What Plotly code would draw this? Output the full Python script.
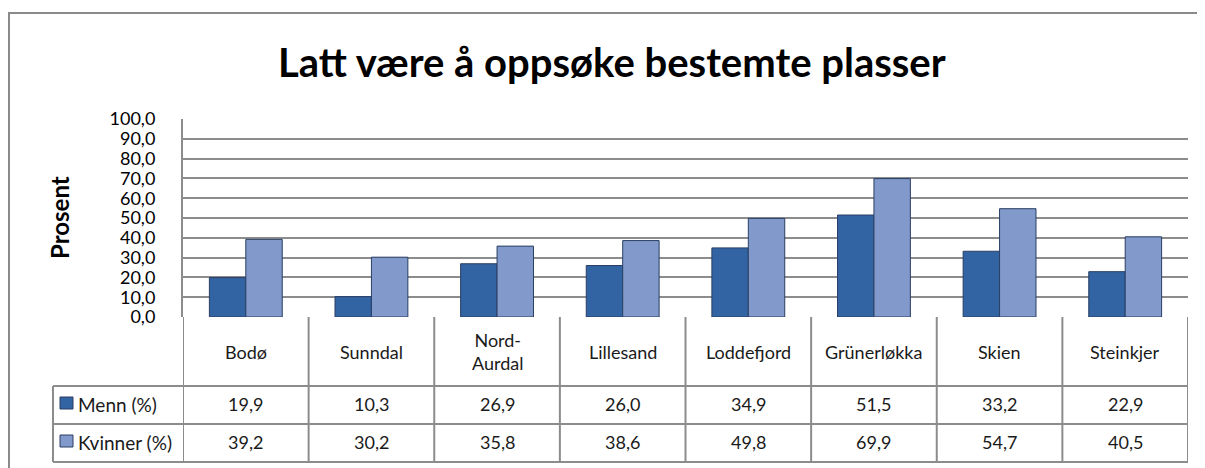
import plotly.graph_objects as go

# --- data ---
CATEGORIES = ["Bodø", "Sunndal", "Nord-<br>Aurdal", "Lillesand", "Loddefjord",
              "Grünerløkka", "Skien", "Steinkjer"]
MENN = [19.9, 10.3, 26.9, 26.0, 34.9, 51.5, 33.2, 22.9]
KVINNER = [39.2, 30.2, 35.8, 38.6, 49.8, 69.9, 54.7, 40.5]
SERIES_NAMES = ["Menn (%)", "Kvinner (%)"]
TICK_VALS = list(range(0, 101, 10))
TICK_TEXT = [f"{v:.1f}".replace(".", ",") for v in TICK_VALS]

TITLE = "Latt være å oppsøke bestemte plasser"
FONT = "Lato, 'Open Sans', sans-serif"
COLORS = ["#3263A3", "#8199CB"]
GRID = "#8c8c8c"

# pixel geometry (screen pixels); the page body adds an 8px margin
OFF = 8
W, H = 1205, 468
PL, PR, PT, PB = 183 - OFF, 1188 - OFF, 119 - OFF, 317 - OFF  # plot area
ROWS_PX = [y - OFF for y in (317, 386, 424, 462)]            # table rows
HEAD_LEFT = 53 - OFF


def px_x(x):
    return (x - PL) / (PR - PL)


def px_y(y):
    return (PB - y) / (PB - PT)


fig = go.Figure()
for name, vals, col in zip(SERIES_NAMES, [MENN, KVINNER], COLORS):
    fig.add_trace(go.Bar(
        x=list(range(len(CATEGORIES))), y=vals, name=name,
        marker=dict(color=col, line=dict(color="#2a3f63", width=1)),
        showlegend=False,
    ))

shapes = []
annotations = []

# outer chart frame (bottom/right fall outside the window)
shapes.append(dict(type="rect", xref="paper", yref="paper",
                   x0=px_x(1), x1=px_x(1230), y0=px_y(13 - OFF), y1=px_y(500),
                   line=dict(color="#8a8a8a", width=2), layer="below"))

# data table lines
n = len(CATEGORIES)
for yb in ROWS_PX[1:]:
    shapes.append(dict(type="line", xref="paper", yref="paper",
                       x0=px_x(HEAD_LEFT), x1=1, y0=px_y(yb), y1=px_y(yb),
                       line=dict(color=GRID, width=2)))
shapes.append(dict(type="line", xref="paper", yref="paper",
                   x0=px_x(HEAD_LEFT), x1=px_x(HEAD_LEFT),
                   y0=px_y(ROWS_PX[1]), y1=px_y(ROWS_PX[-1]),
                   line=dict(color=GRID, width=2)))
for i in range(n + 1):
    shapes.append(dict(type="line", xref="x", yref="paper",
                       x0=i - 0.5, x1=i - 0.5, y0=0, y1=px_y(ROWS_PX[-1]),
                       line=dict(color=GRID, width=2)))

TXT = dict(size=18, color="#1a1a1a", family=FONT)
MID = dict(xanchor="center", yanchor="middle", showarrow=False)

# category labels
for i, cat in enumerate(CATEGORIES):
    annotations.append(dict(x=i, y=px_y((ROWS_PX[0] + ROWS_PX[1]) / 2),
                            xref="x", yref="paper", text=cat, font=TXT, **MID))

# value rows + legend keys
for r, (name, vals, col) in enumerate(zip(SERIES_NAMES, [MENN, KVINNER], COLORS)):
    yc = (ROWS_PX[r + 1] + ROWS_PX[r + 2]) / 2 - 1
    for i, v in enumerate(vals):
        annotations.append(dict(x=i, y=px_y(yc), xref="x", yref="paper",
                                text=f"{v:.1f}".replace(".", ","), font=TXT, **MID))
    annotations.append(dict(x=px_x(76 - OFF), y=px_y(yc), xref="paper", yref="paper",
                            xanchor="left", yanchor="middle", showarrow=False,
                            text=name, font=dict(TXT, size=19)))
    shapes.append(dict(type="rect", xref="paper", yref="paper",
                       x0=px_x(60 - OFF), x1=px_x(73 - OFF),
                       y0=px_y(yc - 7), y1=px_y(yc + 5),
                       fillcolor=col, line=dict(color="#2a3f63", width=1)))

# title and axis title
annotations.append(dict(x=px_x(612 - OFF), y=px_y(62 - OFF), xref="paper", yref="paper",
                        text=f"<b>{TITLE}</b>", font=dict(size=40, color="#000000", family=FONT),
                        **MID))
annotations.append(dict(x=px_x(59 - OFF), y=px_y(218 - OFF), xref="paper", yref="paper",
                        text="<b>Prosent</b>", textangle=-90,
                        font=dict(size=24, color="#000000", family=FONT), **MID))

fig.update_layout(
    width=W, height=H,
    margin=dict(l=PL, r=W - PR, t=PT, b=H - PB, pad=0),
    paper_bgcolor="white", plot_bgcolor="white",
    barmode="group", bargap=0.42, bargroupgap=0,
    shapes=shapes, annotations=annotations,
    xaxis=dict(range=[-0.5, n - 0.5], showticklabels=False, showgrid=False,
               zeroline=False, showline=False, fixedrange=True),
    yaxis=dict(range=[0, 100], tickvals=TICK_VALS, ticktext=TICK_TEXT,
               showgrid=True, gridcolor=GRID, gridwidth=2, zeroline=False,
               showline=True, linecolor=GRID, linewidth=2, mirror=False,
               ticks="", ticklabelstandoff=22,
               tickfont=dict(size=18, color="#000000", family=FONT),
               fixedrange=True),
)
fig.write_html("out.html")
